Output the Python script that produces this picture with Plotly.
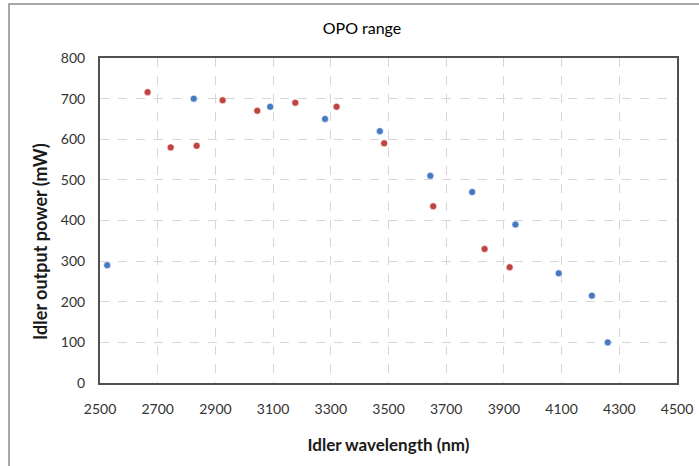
import plotly.graph_objects as go

blue_wl = [2525, 2825, 3090, 3280, 3470, 3645, 3790, 3940, 4090, 4205, 4260]
blue_pw = [290, 700, 680, 650, 620, 510, 470, 390, 270, 215, 100]
red_wl = [2665, 2745, 2835, 2925, 3045, 3177, 3320, 3485, 3655, 3833, 3920]
red_pw = [716, 580, 584, 696, 670, 690, 680, 590, 435, 330, 285]

x_ticks = list(range(2500, 4501, 200))
y_ticks = list(range(0, 801, 100))

fig = go.Figure()
fig.add_trace(go.Scatter(x=blue_wl, y=blue_pw, mode="markers",
                         marker=dict(size=7, color="#4679C1", line=dict(color="white", width=0.6)),
                         showlegend=False))
fig.add_trace(go.Scatter(x=red_wl, y=red_pw, mode="markers",
                         marker=dict(size=7, color="#C0433F", line=dict(color="white", width=0.6)),
                         showlegend=False))

font = "Lato, Open Sans, sans-serif"
fig.update_layout(
    width=699, height=466,
    margin=dict(l=100, r=22, t=58, b=83),
    paper_bgcolor="white", plot_bgcolor="white",
    title=dict(text="OPO range", x=(362 - 100) / 577, xref="paper", xanchor="center",
               y=0.94, yanchor="middle", automargin=False,
               font=dict(family=font, size=16, color="#000")),
    font=dict(family=font, color="#404040"),
    xaxis=dict(range=[2500, 4500], tickvals=x_ticks, ticktext=[str(v) for v in x_ticks],
               automargin=False,
               showgrid=True, gridcolor="#D6D6D6", griddash="dash", gridwidth=1,
               showline=True, linecolor="#505050", linewidth=2, mirror=True,
               zeroline=False, ticks="outside", ticklen=12, tickcolor="rgba(0,0,0,0)",
               tickfont=dict(size=14, color="#333"),
               title=dict(text="<b>Idler wavelength (nm)</b>", standoff=23,
                          font=dict(size=17, color="#1a1a1a"))),
    yaxis=dict(range=[0, 800], tickvals=y_ticks, ticktext=[str(v) for v in y_ticks],
               automargin=False,
               showgrid=True, gridcolor="#D6D6D6", griddash="dash", gridwidth=1,
               showline=True, linecolor="#505050", linewidth=2, mirror=True,
               zeroline=False, ticks="outside", ticklen=10, tickcolor="rgba(0,0,0,0)",
               tickfont=dict(size=14, color="#333")),
)

# y-axis title placed as an annotation to match the reference position
fig.add_annotation(text="<b>Idler output power (mW)</b>", textangle=-90,
                   xref="paper", yref="paper", x=(40 - 100) / 577, y=(383 - 242) / 325,
                   xanchor="center", yanchor="middle", showarrow=False,
                   font=dict(family=font, size=18, color="#1a1a1a"))

# outer chart frame (partially visible in reference)
fig.add_shape(type="rect", xref="paper", yref="paper",
              x0=(9 - 100) / 577, x1=1.2, y0=-0.4, y1=1 + (58 - 4) / 325,
              line=dict(color="#8a8a8a", width=1.5), fillcolor="rgba(0,0,0,0)", layer="below")

fig.write_html("out.html", config={"displayModeBar": False},
               post_script="document.body.style.margin='0px';document.body.style.overflow='hidden';")
